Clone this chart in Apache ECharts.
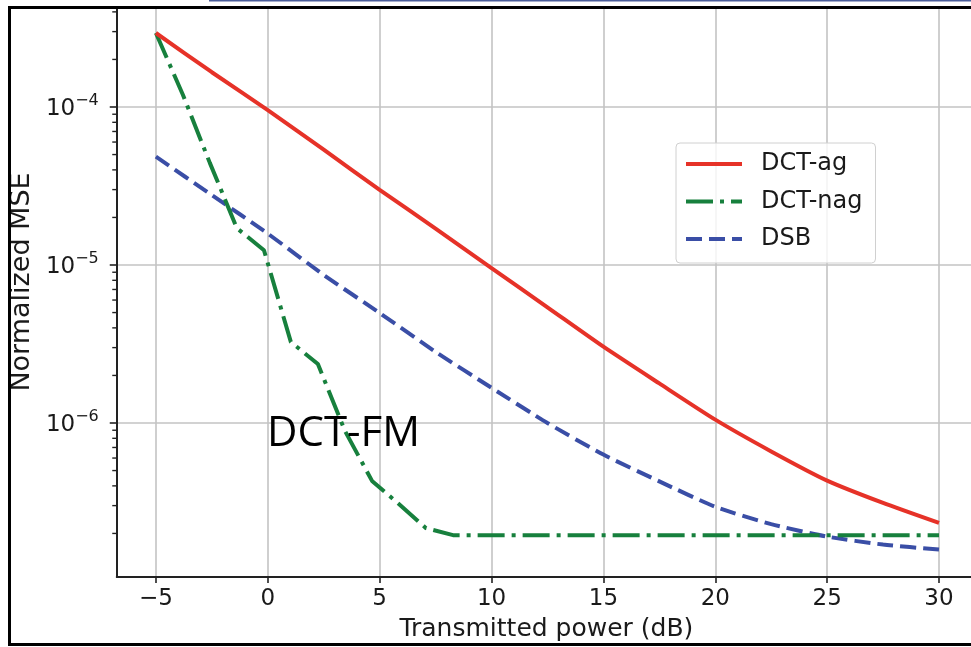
<!DOCTYPE html>
<html>
<head>
<meta charset="utf-8">
<script src="https://cdn.jsdelivr.net/npm/echarts@6/dist/echarts.min.js"></script>
<style>
html,body{margin:0;padding:0;background:#fff;}
#chart{width:971px;height:647px;}
</style>
</head>
<body>
<div id="chart"></div>
<script>
// ---- data ----
const seriesNames = ['DCT-ag', 'DCT-nag', 'DSB'];
const xAg = [-5, -2.5, 0, 2.5, 5, 7.5, 10, 12.5, 15, 17.5, 20, 22.5, 25, 27.5, 30];
const yAg = [2.94e-4, 1.66e-4, 9.55e-5, 5.37e-5, 2.99e-5, 1.70e-5, 9.55e-6, 5.40e-6, 3.04e-6, 1.78e-6, 1.05e-6, 6.61e-7, 4.32e-7, 3.12e-7, 2.33e-7];
const xNag = [-5, -3.79, -2.59, -1.38, -0.17, 1.03, 2.24, 3.45, 4.66, 5.86, 7.07, 8.28, 30];
const yNag = [2.94e-4, 1.19e-4, 4.43e-5, 1.71e-5, 1.24e-5, 3.26e-6, 2.36e-6, 8.9e-7, 4.3e-7, 3.07e-7, 2.16e-7, 1.95e-7, 1.95e-7];
const xDsb = [-5, -2.5, 0, 2.5, 5, 7.5, 10, 12.5, 15, 17.5, 20, 22.5, 25, 27.5, 30];
const yDsb = [4.85e-5, 2.77e-5, 1.58e-5, 8.65e-6, 4.97e-6, 2.82e-6, 1.67e-6, 1.0e-6, 6.31e-7, 4.27e-7, 2.95e-7, 2.29e-7, 1.91e-7, 1.70e-7, 1.58e-7];
const xTicks = [-5, 0, 5, 10, 15, 20, 25, 30];
const yTicks = [1e-6, 1e-5, 1e-4];
const yMinorTicks = [2e-7,3e-7,4e-7,5e-7,6e-7,7e-7,8e-7,9e-7,
                     2e-6,3e-6,4e-6,5e-6,6e-6,7e-6,8e-6,9e-6,
                     2e-5,3e-5,4e-5,5e-5,6e-5,7e-5,8e-5,9e-5,
                     2e-4,3e-4,4e-4];
const annotation = 'DCT-FM';
const xTitle = 'Transmitted power (dB)';
const yTitle = 'Normalized MSE';

// axis limits (visible part of the cropped axes)
const X_MIN = -6.75, X_MAX = 31.43;
const Y_MIN = Math.pow(10, -6.9747), Y_MAX = Math.pow(10, -3.3228);

const zip = (xs, ys) => xs.map((x, i) => [x, ys[i]]);
const TXT = '#1a1a1a';
const FONT = 'DejaVu Sans';
const gridLine = {color: '#c3c3c3', width: 1.6};
const axLine = {color: '#222', width: 2};

const chart = echarts.init(document.getElementById('chart'), null, {renderer: 'canvas'});
chart.setOption({
  backgroundColor: '#fff',
  animation: false,
  textStyle: {fontFamily: FONT},
  grid: {left: 116, right: 0, top: 0, bottom: 70, containLabel: false},
  legend: {
    orient: 'vertical', left: 676, top: 143,
    data: seriesNames,
    itemWidth: 56, itemHeight: 14, itemGap: 13.5,
    padding: [9, 13, 12, 8],
    backgroundColor: 'rgba(255,255,255,0.8)',
    borderColor: '#d0d0d0', borderWidth: 1, borderRadius: 4,
    itemStyle: {opacity: 0},
    lineStyle: {width: 4},
    textStyle: {fontSize: 24, color: TXT, fontFamily: FONT, padding: [0, 0, 0, 14]}
  },
  xAxis: {
    type: 'value', min: X_MIN, max: X_MAX, splitNumber: 8,
    name: xTitle, nameLocation: 'middle', nameGap: 40,
    nameTextStyle: {fontSize: 25, color: TXT, fontFamily: FONT, padding: [0, 0, 0, 5]},
    axisLine: {onZero: false, lineStyle: axLine},
    axisTick: {customValues: xTicks, length: 6, lineStyle: {color: '#222', width: 1.6}},
    axisLabel: {customValues: xTicks, fontSize: 23, color: TXT, margin: 11, fontFamily: FONT,
      formatter: v => (v < 0 ? '\u2212' + Math.abs(v) : '' + v)},
    splitLine: {show: true, lineStyle: gridLine}
  },
  yAxis: {
    type: 'log', logBase: 10, min: Y_MIN, max: Y_MAX,
    name: yTitle, nameLocation: 'middle', nameGap: 80,
    nameTextStyle: {fontSize: 27, color: TXT, fontFamily: FONT, padding: [0, 0, 0, 13]},
    axisLine: {onZero: false, lineStyle: axLine},
    axisTick: {customValues: yTicks, length: 7, lineStyle: {color: '#222', width: 1.6}},
    axisLabel: {
      customValues: yTicks, margin: 18, color: TXT, fontFamily: FONT,
      formatter: v => '{b|10}{s|\u2212' + Math.abs(Math.round(Math.log10(v))) + '}',
      rich: {
        b: {fontSize: 23, lineHeight: 28, verticalAlign: 'bottom', color: TXT, fontFamily: FONT},
        s: {fontSize: 16, lineHeight: 16, verticalAlign: 'top', color: TXT, fontFamily: FONT}
      }
    },
    splitLine: {show: true, lineStyle: gridLine}
  },
  series: [
    {name: 'DCT-ag', type: 'line', data: zip(xAg, yAg), symbol: 'none', smooth: 0.2,
     lineStyle: {color: '#e63228', width: 4}, itemStyle: {color: '#e63228'}, z: 5},
    {name: 'DCT-nag', type: 'line', data: zip(xNag, yNag), symbol: 'none',
     lineStyle: {color: '#17803d', width: 4, type: [27, 7, 4, 7]}, itemStyle: {color: '#17803d'}, z: 4},
    {name: 'DSB', type: 'line', data: zip(xDsb, yDsb), symbol: 'none', smooth: 0.2,
     lineStyle: {color: '#3a4ea6', width: 4, type: [16, 7]}, itemStyle: {color: '#3a4ea6'}, z: 3},
    {name: 'minorTicks', type: 'custom', silent: true, z: 6,
     data: yMinorTicks.map(v => [X_MIN, v]),
     renderItem: (params, api) => {
       const p = api.coord([api.value(0), api.value(1)]);
       return {type: 'line', shape: {x1: p[0] - 4.5, y1: p[1], x2: p[0], y2: p[1]},
               style: {stroke: '#222', lineWidth: 1.4}};
     }}
  ],
  graphic: [
    {type: 'text', left: 267, top: 413, z: 20,
     style: {text: annotation, font: '42px "Open Sans"', fill: '#000'}},
    {type: 'rect', shape: {x: 0, y: 0, width: 971, height: 6}, style: {fill: '#fff'}, z: 50},
    {type: 'rect', shape: {x: 209, y: 0, width: 762, height: 1.5}, style: {fill: '#4a5d9a'}, z: 51},
    {type: 'rect', shape: {x: 8, y: 6, width: 963, height: 3}, style: {fill: '#000'}, z: 51},
    {type: 'rect', shape: {x: 8, y: 6, width: 3, height: 640}, style: {fill: '#000'}, z: 51},
    {type: 'rect', shape: {x: 8, y: 643, width: 963, height: 3}, style: {fill: '#000'}, z: 51}
  ]
});
</script>
</body>
</html>
